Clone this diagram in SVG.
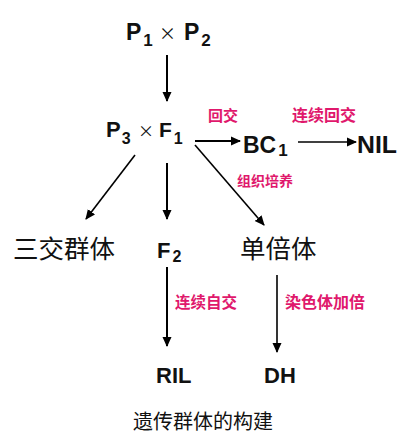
<svg xmlns="http://www.w3.org/2000/svg" width="408" height="443" viewBox="0 0 408 443">
<defs>
<marker id="ah2" viewBox="0 0 10 10" refX="9" refY="5" markerWidth="10" markerHeight="10" orient="auto" markerUnits="userSpaceOnUse">
<path d="M0,0.5 L10,5 L0,9.5 Z" fill="#000"/>
</marker>
</defs>
<style>
.lat{font-family:"Liberation Sans",Arial,sans-serif;font-weight:bold;fill:#111;}
.cn{font-family:"Noto Sans CJK SC",sans-serif;fill:#111;}
.lbl{font-family:"Noto Sans CJK SC",sans-serif;font-weight:bold;fill:#e0186c;}
.ln{stroke:#000;fill:none;}
</style>
<rect width="408" height="443" fill="#fff"/>
<g id="edges">
<line class="ln" x1="167" y1="55" x2="167" y2="101" stroke-width="2" marker-end="url(#ah2)"/>
<line class="ln" x1="195" y1="141" x2="240" y2="141" stroke-width="2" marker-end="url(#ah2)"/>
<line class="ln" x1="298" y1="142" x2="356" y2="142" stroke-width="1.6" marker-end="url(#ah2)"/>
<line class="ln" x1="135" y1="155" x2="86" y2="219" stroke-width="1.6" marker-end="url(#ah2)"/>
<line class="ln" x1="167" y1="163" x2="167" y2="219" stroke-width="2" marker-end="url(#ah2)"/>
<line class="ln" x1="195" y1="145" x2="264" y2="225" stroke-width="1.6" marker-end="url(#ah2)"/>
<line class="ln" x1="167" y1="267" x2="167" y2="346" stroke-width="2" marker-end="url(#ah2)"/>
<line class="ln" x1="277" y1="275" x2="277" y2="352" stroke-width="1.6" marker-end="url(#ah2)"/>
<text class="lbl" x="208" y="121" font-size="15">回交</text>
<text class="lbl" x="292" y="121" font-size="16">连续回交</text>
<text class="lbl" x="237" y="186" font-size="14">组织培养</text>
<text class="lbl" x="175" y="308" font-size="15.5">连续自交</text>
<text class="lbl" x="285" y="308" font-size="16">染色体加倍</text>
</g>
<g id="p1p2">
<text class="lat" x="126" y="40" font-size="23">P<tspan font-size="17" dy="6" dx="2">1</tspan></text>
<text class="cn" x="159" y="40" font-size="17" fill="#333">×</text>
<text class="lat" x="184" y="40" font-size="23">P<tspan font-size="17" dy="6" dx="2">2</tspan></text>
</g>
<g id="p3f1">
<text class="lat" x="106" y="137" font-size="22">P<tspan font-size="16" dy="7" dx="1">3</tspan></text>
<text class="cn" x="138" y="137" font-size="16" fill="#333">×</text>
<text class="lat" x="159" y="137" font-size="21">F<tspan font-size="16" dy="7" dx="2">1</tspan></text>
</g>
<g id="bc1">
<text class="lat" x="243" y="153" font-size="23">BC<tspan font-size="17" dy="3" dx="2">1</tspan></text>
</g>
<g id="nil">
<text class="lat" x="357" y="153" font-size="23" textLength="40" lengthAdjust="spacingAndGlyphs">NIL</text>
</g>
<g id="sanjiao">
<text class="cn" x="13" y="258" font-size="25.5">三交群体</text>
</g>
<g id="f2">
<text class="lat" x="157" y="258" font-size="22" font-weight="normal">F<tspan font-size="16" dy="4" dx="2">2</tspan></text>
</g>
<g id="danbei">
<text class="cn" x="240" y="258" font-size="25.5">单倍体</text>
</g>
<g id="ril">
<text class="lat" x="156" y="383" font-size="22">RIL</text>
</g>
<g id="dh">
<text class="lat" x="264" y="383" font-size="22">DH</text>
</g>
<g id="caption">
<text class="cn" x="133" y="429" font-size="20">遗传群体的构建</text>
</g>
</svg>
